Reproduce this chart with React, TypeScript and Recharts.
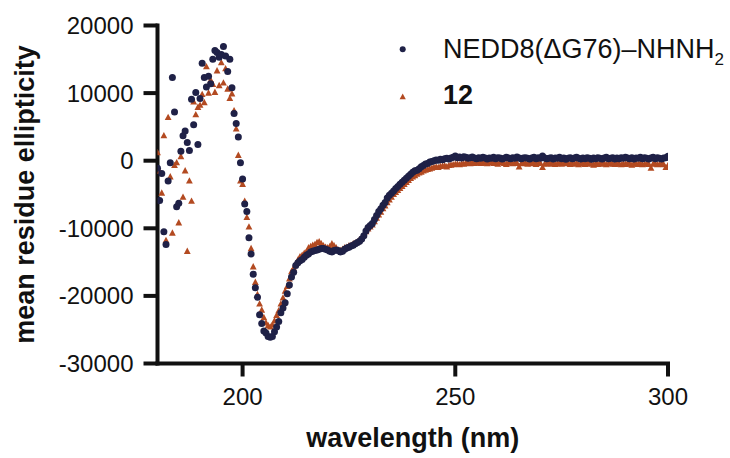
import React from 'react';
import { ScatterChart, Scatter, XAxis, YAxis, Legend } from 'recharts';

// wavelength grid (nm), 0.5 nm steps
const wavelengths = [
  180, 180.5, 181, 181.5, 182, 182.5, 183, 183.5, 184, 184.5, 185, 185.5, 186, 186.5, 187, 187.5, 188, 188.5, 189, 189.5,
  190, 190.5, 191, 191.5, 192, 192.5, 193, 193.5, 194, 194.5, 195, 195.5, 196, 196.5, 197, 197.5, 198, 198.5, 199, 199.5,
  200, 200.5, 201, 201.5, 202, 202.5, 203, 203.5, 204, 204.5, 205, 205.5, 206, 206.5, 207, 207.5, 208, 208.5, 209, 209.5,
  210, 210.5, 211, 211.5, 212, 212.5, 213, 213.5, 214, 214.5, 215, 215.5, 216, 216.5, 217, 217.5, 218, 218.5, 219, 219.5,
  220, 220.5, 221, 221.5, 222, 222.5, 223, 223.5, 224, 224.5, 225, 225.5, 226, 226.5, 227, 227.5, 228, 228.5, 229, 229.5,
  230, 230.5, 231, 231.5, 232, 232.5, 233, 233.5, 234, 234.5, 235, 235.5, 236, 236.5, 237, 237.5, 238, 238.5, 239, 239.5,
  240, 240.5, 241, 241.5, 242, 242.5, 243, 243.5, 244, 244.5, 245, 245.5, 246, 246.5, 247, 247.5, 248, 248.5, 249, 249.5,
  250, 250.5, 251, 251.5, 252, 252.5, 253, 253.5, 254, 254.5, 255, 255.5, 256, 256.5, 257, 257.5, 258, 258.5, 259, 259.5,
  260, 260.5, 261, 261.5, 262, 262.5, 263, 263.5, 264, 264.5, 265, 265.5, 266, 266.5, 267, 267.5, 268, 268.5, 269, 269.5,
  270, 270.5, 271, 271.5, 272, 272.5, 273, 273.5, 274, 274.5, 275, 275.5, 276, 276.5, 277, 277.5, 278, 278.5, 279, 279.5,
  280, 280.5, 281, 281.5, 282, 282.5, 283, 283.5, 284, 284.5, 285, 285.5, 286, 286.5, 287, 287.5, 288, 288.5, 289, 289.5,
  290, 290.5, 291, 291.5, 292, 292.5, 293, 293.5, 294, 294.5, 295, 295.5, 296, 296.5, 297, 297.5, 298, 298.5, 299, 299.5,
  300,
];

// NEDD8(dG76)-NHNH2
const nedd8Values = [
  -1100, -5900, -1900, -10500, -12400, -3000, -300, 12300, 7200, -6800, -6300, 1400, 3700, 4400, 2700, 1500, 9100, 5300, 10100, 2400,
  9200, 14400, 12300, 10900, 12500, 11400, 15000, 16300, 16000, 15300, 15700, 16900, 15500, 13200, 15000, 10800, 7000, 5500, 3500, -300,
  -2700, -6400, -7500, -11400, -13800, -16800, -18800, -20200, -22800, -24100, -25200, -25500, -26000, -26100, -26000, -25300, -24600, -23800, -22500, -21800,
  -21000, -19700, -18400, -17200, -16500, -15500, -15100, -14800, -14600, -14300, -14000, -13800, -13500, -13400, -13300, -13200, -13100, -13000, -13000, -13100,
  -13200, -13400, -13500, -13300, -13200, -13300, -13500, -13400, -13100, -12900, -12800, -12600, -12500, -12300, -12100, -11900, -11600, -11100, -10400, -9900,
  -9600, -9300, -8700, -8100, -7500, -7100, -6600, -6200, -5500, -5100, -4800, -4500, -4100, -3800, -3500, -3200, -2900, -2600, -2300, -2000,
  -1700, -1500, -1400, -1200, -900, -700, -500, -400, -200, -100, 0, 100, 50, 200, 150, 300, 350, 250, 400, 500,
  700, 450, 550, 400, 600, 500, 350, 450, 550, 400, 300, 450, 350, 500, 400, 250, 400, 350, 500, 300,
  450, 400, 250, 350, 500, 400, 300, 450, 350, 550, 400, 300, 400, 450, 350, 250, 400, 500, 300, 450,
  350, 700, 400, 300, 350, 450, 250, 400, 350, 500, 300, 400, 200, 350, 450, 300, 400, 500, 350, 250,
  400, 300, 450, 350, 200, 400, 300, 450, 350, 250, 400, 500, 300, 350, 450, 250, 400, 300, 450, 350,
  500, 400, 300, 450, 250, 400, 350, 500, 300, 450, 350, 250, 400, 500, 300, 450, 350, 250, 400, 450,
  650,
];

// compound 12
const compound12Values = [
  1200, -1600, -4800, 3700, -11800, 6400, -2400, -10700, -700, -300, -9200, 600, -5400, -1500, -13400, -3000, -6000, 8700, 6800, 7900,
  8200, 9800, 8600, 13900, 10000, 11900, 11300, 10100, 13300, 11100, 14500, 11500, 13600, 10600, 9200, 9900, 7400, 4700, 800, -3000,
  -3500, -6000, -8400, -9800, -13000, -15700, -18000, -19800, -21200, -22100, -23200, -24000, -24400, -24600, -24300, -23700, -22900, -22200, -21200, -20300,
  -19300, -18600, -17500, -16400, -15900, -15300, -14700, -14200, -14000, -13700, -13500, -12900, -12700, -12500, -12400, -12100, -12000, -12300, -12600, -12800,
  -12900, -12700, -12300, -12600, -12900, -13200, -13300, -13100, -12900, -12800, -12600, -12500, -12300, -12200, -12000, -11700, -11400, -11000, -10500, -10100,
  -9800, -9500, -9000, -8500, -8000, -7600, -7100, -6700, -6200, -5800, -5400, -5000, -4700, -4400, -4100, -3800, -3500, -3200, -2900, -2600,
  -2400, -2200, -2000, -1800, -1700, -1500, -1400, -1300, -1200, -1100, -1000, -950, -1000, -850, -800, -750, -900, -700, -650, -600,
  -550, -500, -600, -450, -500, -400, -350, -450, -300, -400, -350, -250, -400, -300, -350, -450, -300, -250, -400, -350,
  -500, -300, -250, -400, -550, -350, -300, -450, -400, -350, -900, -450, -300, -400, -500, -350, -450, -300, -550, -400,
  -350, -1000, -500, -450, -350, -500, -400, -550, -450, -350, -500, -400, -300, -450, -550, -400, -500, -350, -600, -450,
  -400, -550, -450, -350, -500, -650, -400, -550, -450, -500, -400, -600, -450, -350, -500, -550, -400, -500, -600, -450,
  -550, -400, -500, -650, -450, -500, -550, -400, -600, -500, -450, -550, -1100, -500, -450, -600, -550, -450, -600, -1000,
  -700,
];

const xTicks = [200, 250, 300];
const yTicks = [-30000, -20000, -10000, 0, 10000, 20000];

const NAVY = '#1f2147';
const RUST = '#b34a21';
const INK = '#111111';
const FONT = '"Liberation Sans", Arial, Helvetica, sans-serif';

const nedd8Data = wavelengths.map((w, i) => ({ w, v: nedd8Values[i] }));
const compound12Data = wavelengths.map((w, i) => ({ w, v: compound12Values[i] }));

const DotShape = (props: any) => <circle cx={props.cx} cy={props.cy} r={3.5} fill={NAVY} />;

const TriShape = (props: any) => {
  const { cx, cy } = props;
  return <polygon points={`${cx},${cy - 3.8} ${cx - 3.4},${cy + 2.6} ${cx + 3.4},${cy + 2.6}`} fill={RUST} />;
};

const LegendBox = () => (
  <svg width={340} height={90} style={{ display: 'block' }}>
    <circle cx={12.7} cy={29.3} r={3} fill={NAVY} />
    <text x={53} y={38.3} fontSize={27} fontFamily={FONT} fill={INK}>
      NEDD8(ΔG76)–NHNH<tspan dy={7} fontSize={17}>2</tspan>
    </text>
    <polygon points="12.7,73.4 9.6,79.2 15.8,79.2" fill={RUST} />
    <text x={53} y={83.5} fontSize={27} fontWeight="bold" fontFamily={FONT} fill={INK}>
      12
    </text>
  </svg>
);

const axisLine = { stroke: INK, strokeWidth: 4, strokeLinecap: 'square' as const };
const tickLine = { stroke: INK, strokeWidth: 4 };
const tickText = { fontSize: 24, fill: INK, fontFamily: FONT };

export default function App() {
  return (
    <div style={{ position: 'absolute', left: 0, top: 0, width: 730, height: 458, background: '#fff' }}>
      <ScatterChart width={730} height={458} margin={{ top: 25.5, right: 62, bottom: 0, left: 10 }}>
        <XAxis
          type="number"
          dataKey="w"
          domain={[180, 300]}
          ticks={xTicks}
          allowDataOverflow
          height={94.5}
          axisLine={axisLine}
          tickLine={tickLine}
          tickSize={13}
          tickMargin={11}
          tick={tickText}
          label={{
            value: 'wavelength (nm)',
            position: 'insideBottom',
            offset: 11,
            fontSize: 27,
            fontWeight: 'bold',
            fontFamily: FONT,
            fill: INK,
          }}
        />
        <YAxis
          type="number"
          dataKey="v"
          domain={[-30000, 20000]}
          ticks={yTicks}
          allowDataOverflow
          width={147.5}
          axisLine={axisLine}
          tickLine={tickLine}
          tickSize={14}
          tickMargin={10}
          tick={tickText}
          label={{
            value: 'mean residue ellipticity',
            angle: -90,
            position: 'insideLeft',
            offset: 14,
            fontSize: 27,
            fontWeight: 'bold',
            fontFamily: FONT,
            fill: INK,
            style: { textAnchor: 'middle' },
          }}
        />
        <Legend
          layout="vertical"
          align="center"
          verticalAlign="middle"
          content={() => <LegendBox />}
          wrapperStyle={{ left: 390, top: 20, width: 340, height: 90 }}
        />
        <Scatter name="12" data={compound12Data} shape={TriShape} isAnimationActive={false} />
        <Scatter name="NEDD8(ΔG76)–NHNH2" data={nedd8Data} shape={DotShape} isAnimationActive={false} />
      </ScatterChart>
    </div>
  );
}
